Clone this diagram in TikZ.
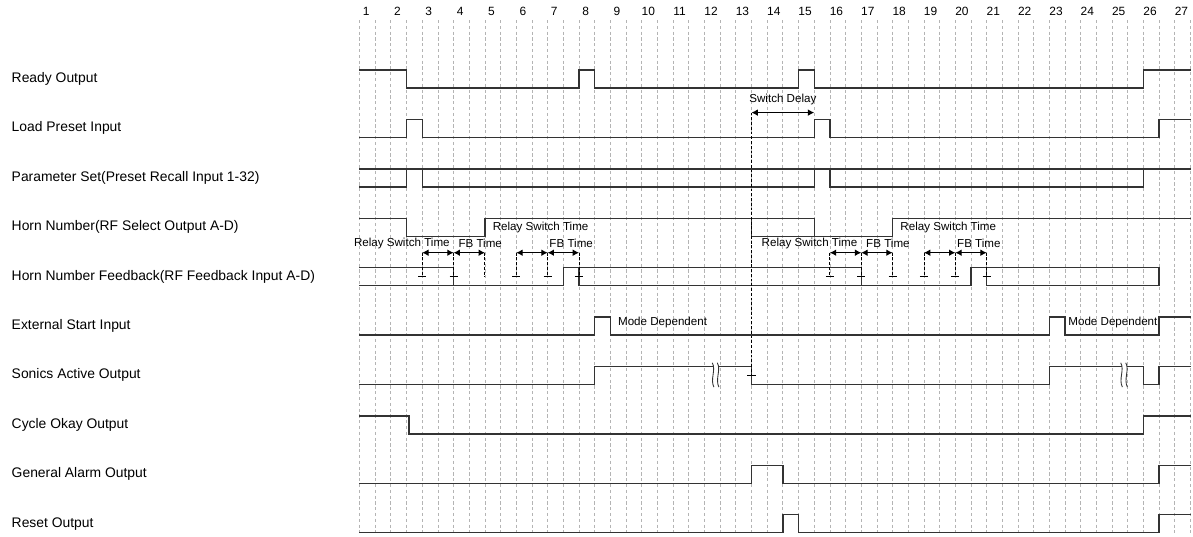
\documentclass[tikz,border=0pt]{standalone}
\usepackage{fontspec}
\setmainfont{Liberation Sans}
\usepackage{xcolor}
\definecolor{Wave}{HTML}{333333}
\definecolor{Grid}{HTML}{B4B4B4}
\usepackage{tikz}
\usetikzlibrary{arrows.meta}
\def\rowgap{0.988cm}

\begin{document}
\begin{tikzpicture}[x=0.3136cm,y=0.36cm,
  wave/.style={Wave,line width=0.8pt},
  gridline/.style={Grid,line width=0.45pt,dash pattern=on 1.8pt off 1.5pt},
  marker/.style={black,line width=0.55pt,dash pattern=on 1.6pt off 1.1pt},
  tick/.style={black,line width=0.55pt},
  dim/.style={<->,>={Latex[length=3.6pt,width=3.8pt]},line width=0.6pt},
  sig/.style={anchor=west,inner sep=0pt,font=\fontsize{7.9}{9}\selectfont},
  note/.style={inner sep=0pt,font=\fontsize{6.6}{8}\selectfont},
  num/.style={inner sep=0pt,font=\fontsize{6.8}{8}\selectfont}]
\useasboundingbox (-22.927,4.889) rectangle (53.157,-24.889);
\foreach \i in {0,...,53}{\draw[gridline] (\i,3.778) -- (\i,-24.889);}
\foreach \n in {1,...,27}{\node[num] (n\n) at ({2*\n-1.58},4.239) {\n};}
\foreach \lbl [count=\r from 0] in {Ready Output,Load Preset Input,Parameter Set(Preset Recall Input 1-32),Horn Number(RF Select Output A-D),Horn Number Feedback(RF Feedback Input A-D),External Start Input,Sonics Active Output,Cycle Okay Output,General Alarm Output,Reset Output}{
  \node[sig] (lbl\r) at (-22.2,{0.5-2.7444*\r}) {\lbl};
}
\begin{scope}
\draw[wave] (0,1) -- (3,1) -- (3,0) -- (14,0) -- (14,1) -- (15,1) -- (15,0) -- (28,0) -- (28,1) -- (29,1) -- (29,0) -- (50,0) -- (50,1) -- (53,1);
\end{scope}
\begin{scope}[yshift=-1*\rowgap]
\draw[wave] (0,0) -- (3,0) -- (3,1) -- (4,1) -- (4,0) -- (29,0) -- (29,1) -- (30,1) -- (30,0) -- (51,0) -- (51,1) -- (53,1);
\coordinate (sd1) at (25,1.378);
\coordinate (sd2) at (29,1.378);
\draw[dim] (sd1) -- (sd2);
\node[note] (swdelay) at (27,2.083) {Switch Delay};
\end{scope}
\begin{scope}[yshift=-2*\rowgap]
\draw[wave] (0,1) -- (53,1);
\draw[wave] (0,0) -- (3,0) -- (3,1) (4,1) -- (4,0) -- (29,0) -- (29,1) (30,1) -- (30,0) -- (50,0) -- (50,1);
\end{scope}
\begin{scope}[yshift=-3*\rowgap]
\draw[wave] (0,1) -- (3,1) -- (3,0) -- (8,0) -- (8,1) -- (29,1) -- (29,0);
\draw[wave] (25,1) -- (25,0) -- (34,0) -- (34,1) -- (53,1);
\end{scope}
\begin{scope}[yshift=-4*\rowgap]
\draw[wave] (0,1) -- (6,1) -- (6,0);
\draw[wave] (0,0) -- (13,0) -- (13,1) -- (32,1) -- (32,0);
\draw[wave] (14,1) -- (14,0) -- (39,0) -- (39,1) -- (51,1) -- (51,0);
\draw[wave] (40,1) -- (40,0) -- (51,0);
\foreach \x in {4,6,...,14,30,32,...,40}{\draw[marker] (\x,1.828) -- (\x,0.5);}
\foreach \x in {4,6,10,12,14,30,32,...,40}{\draw[tick] (\x-0.26,0.5) -- (\x+0.26,0.5);}
\foreach \a in {4,6,10,12,30,32,36,38}{\draw[dim] (\a,1.828) -- (\a+2,1.828);}
\foreach \o in {0,26}{
  \node[note] (rsA\o) at (2.7+\o,2.35) {Relay Switch Time};
  \node[note] (fbA\o) at (7.7+\o,2.35) {FB Time};
  \node[note] (rsB\o) at (11.55+\o,3.217) {Relay Switch Time};
  \node[note] (fbB\o) at (13.5+\o,2.33) {FB Time};
}
\end{scope}
\begin{scope}[yshift=-5*\rowgap]
\draw[wave] (0,0) -- (15,0) -- (15,1) -- (16,1) -- (16,0) -- (44,0) -- (44,1) -- (45,1) -- (45,0) -- (51,0) -- (51,1) -- (53,1);
\node[note,anchor=west] (mode1) at (16.47,0.68) {Mode Dependent};
\node[note,anchor=west] (mode2) at (45.19,0.68) {Mode Dependent};
\end{scope}
\begin{scope}[yshift=-6*\rowgap]
\draw[wave] (0,0) -- (15,0) -- (15,1) -- (22.55,1) (22.87,1) -- (25,1) -- (25,0) -- (44,0) -- (44,1) -- (48.6,1) (48.92,1) -- (50,1) -- (50,0) -- (51,0) -- (51,1) -- (53,1);
\foreach \b in {22.55,22.87,48.6,48.92}{
  \draw[Wave,line width=0.5pt] (\b-0.05,1.2) .. controls (\b+0.2,0.8) and (\b-0.2,0.3) .. (\b+0.05,-0.15);
}
\coordinate (sdend) at (25,0.5);
\draw[tick] (24.74,0.5) -- (25.26,0.5);
\end{scope}
\draw[marker] (sd1) -- (sdend);
\begin{scope}[yshift=-7*\rowgap]
\draw[wave] (0,1) -- (3.17,1) -- (3.17,0) -- (50,0) -- (50,1) -- (53,1);
\end{scope}
\begin{scope}[yshift=-8*\rowgap]
\draw[wave] (0,0) -- (25,0) -- (25,1) -- (27,1) -- (27,0) -- (51,0) -- (51,1) -- (53,1);
\end{scope}
\begin{scope}[yshift=-9*\rowgap]
\draw[wave] (0,0) -- (27,0) -- (27,1) -- (28,1) -- (28,0) -- (51,0) -- (51,1) -- (53,1);
\end{scope}
\end{tikzpicture}
\end{document}
